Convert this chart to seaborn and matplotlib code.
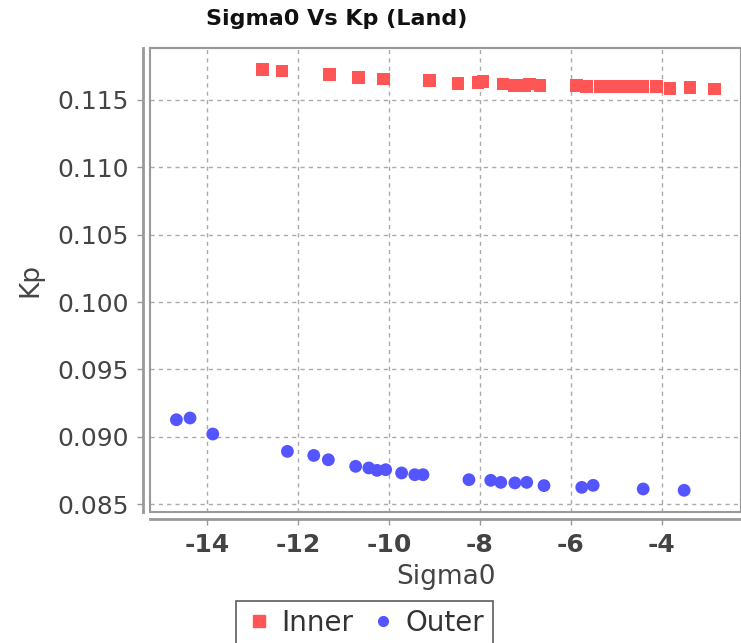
import numpy as np
import pandas as pd
import matplotlib
matplotlib.use('Agg')
import matplotlib.pyplot as plt
import seaborn as sns
from matplotlib.patches import Rectangle

# Inner series (red squares)
inner_sigma0 = [-12.78, -12.35, -11.30, -10.67, -10.12, -9.10, -8.48, -8.04, -7.93,
                -7.49, -7.23, -7.01, -6.90, -6.68, -5.87, -5.65, -5.36, -5.21,
                -4.99, -4.77, -4.55, -4.42, -4.11, -3.82, -3.38, -2.84]
inner_kp = [0.11728, 0.11715, 0.11691, 0.11668, 0.11656, 0.11643, 0.11624, 0.11628, 0.11636,
            0.11619, 0.11606, 0.11606, 0.11619, 0.11606, 0.11606, 0.11600, 0.11600, 0.11600,
            0.11600, 0.11600, 0.11600, 0.11600, 0.11599, 0.11584, 0.11594, 0.11582]

# Outer series (blue circles)
outer_sigma0 = [-14.67, -14.37, -13.87, -12.23, -11.65, -11.33, -10.73, -10.44, -10.26,
                -10.07, -9.72, -9.43, -9.25, -8.24, -7.76, -7.54, -7.23, -6.97,
                -6.59, -5.76, -5.51, -4.41, -3.51]
outer_kp = [0.09126, 0.09139, 0.09020, 0.08891, 0.08861, 0.08829, 0.08780, 0.08768, 0.08750,
            0.08755, 0.08731, 0.08718, 0.08718, 0.08681, 0.08676, 0.08661, 0.08657, 0.08661,
            0.08637, 0.08624, 0.08639, 0.08612, 0.08602]

x_ticks = [-14, -12, -10, -8, -6, -4]
y_ticks = [0.085, 0.090, 0.095, 0.100, 0.105, 0.110, 0.115]

df = pd.DataFrame({
    'Sigma0': inner_sigma0 + outer_sigma0,
    'Kp': inner_kp + outer_kp,
    'Series': ['Inner'] * len(inner_sigma0) + ['Outer'] * len(outer_sigma0),
})

sns.set_style('white')
plt.rcParams['font.family'] = ['DejaVu Sans']

fig = plt.figure(figsize=(7.41, 6.43), dpi=100)
ax = fig.add_axes([150 / 741, 1 - 512 / 643, 591 / 741, 464 / 643])

# spines first: moving them resets the tick labels
for side in ['top', 'right']:
    ax.spines[side].set_color('#999999')
    ax.spines[side].set_linewidth(1.5)
for side in ['left', 'bottom']:
    ax.spines[side].set_position(('outward', 5))
    ax.spines[side].set_color('#999999')
    ax.spines[side].set_linewidth(2)

sns.scatterplot(data=df, x='Sigma0', y='Kp', hue='Series', style='Series',
                palette={'Inner': '#FF5555', 'Outer': '#5555FF'},
                markers={'Inner': 's', 'Outer': 'o'},
                s=85, linewidth=0, ax=ax, legend=False, zorder=3)

ax.set_xlim(-15.25, -2.26)
ax.set_ylim(0.08441, 0.11886)
ax.set_xticks(x_ticks)
ax.set_yticks(y_ticks)
ax.set_xticklabels([str(t) for t in x_ticks], fontsize=18, fontweight='bold', color='#444444')
ax.set_yticklabels(['%.3f' % t for t in y_ticks], fontsize=18, color='#444444')
ax.grid(True, linestyle=(0, (3, 3)), color='#aaaaaa', linewidth=1)
ax.set_axisbelow(True)

ax.add_patch(Rectangle((0, 0), 1, 1, transform=ax.transAxes, fill=False,
                       edgecolor='#999999', linewidth=1.5, clip_on=False, zorder=4))
ax.tick_params(axis='both', which='both', direction='out', length=4, width=1,
               color='#999999', left=True, bottom=True, pad=6)

ax.set_xlabel('Sigma0', fontsize=19, color='#444444', labelpad=5)
ax.set_ylabel('Kp', fontsize=19, color='#444444', labelpad=10)

fig.text(0.455, 0.970, 'Sigma0 Vs Kp (Land)', ha='center', va='center',
         fontsize=16, fontweight='bold', color='#111111')

handles = [
    plt.Line2D([], [], marker='s', linestyle='', color='#FF5555', markersize=8),
    plt.Line2D([], [], marker='o', linestyle='', color='#5555FF', markersize=7),
]
leg = fig.legend(handles, ['Inner', 'Outer'], loc='lower center', bbox_to_anchor=(0.492, -0.025),
                 ncol=2, frameon=True, fancybox=False, fontsize=20, handletextpad=0.3,
                 columnspacing=0.6, handlelength=1.0, borderpad=0.3)
leg.get_frame().set_edgecolor('#333333')
leg.get_frame().set_linewidth(1.2)
for t in leg.get_texts():
    t.set_color('#333333')

fig.savefig('out.png', dpi=100)
